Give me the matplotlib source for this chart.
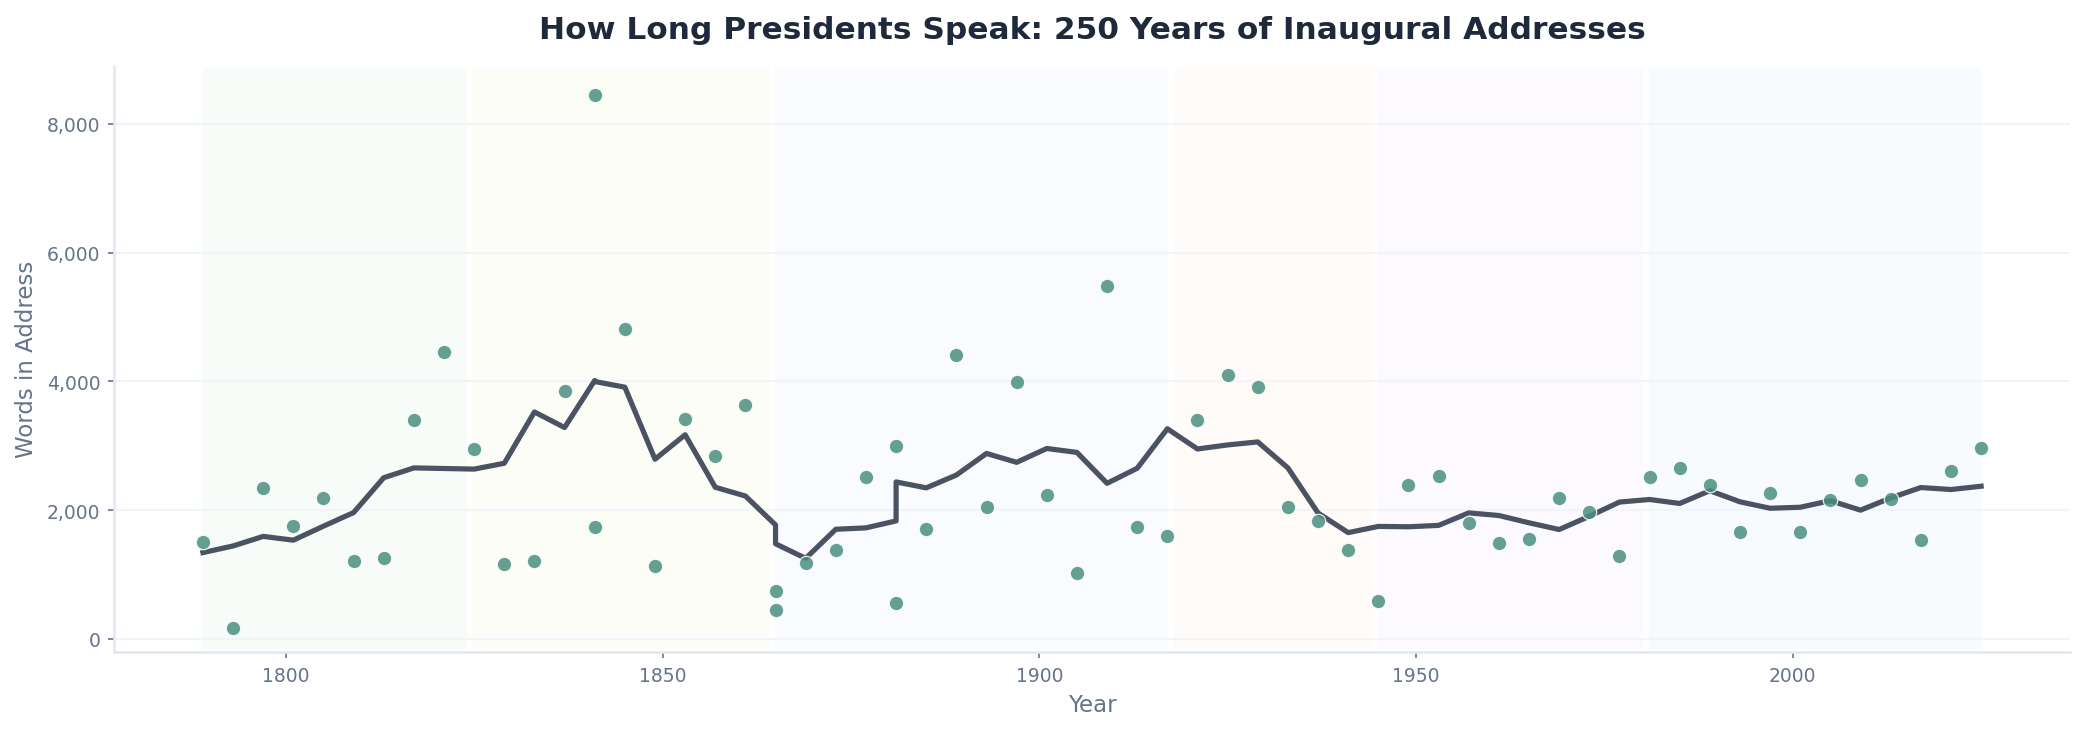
import matplotlib
matplotlib.use("Agg")
import matplotlib.pyplot as plt
from matplotlib.ticker import FuncFormatter
import pandas as pd

# inaugural addresses: year and word count
years = [1789, 1793, 1797, 1801, 1805, 1809, 1813, 1817, 1821, 1825, 1829, 1833,
         1837, 1841, 1841, 1845, 1849, 1853, 1857, 1861, 1865, 1865, 1869, 1873,
         1877, 1881, 1881, 1885, 1889, 1893, 1897, 1901, 1905, 1909, 1913, 1917,
         1921, 1925, 1929, 1933, 1937, 1941, 1945, 1949, 1953, 1957, 1961, 1965,
         1969, 1973, 1977, 1981, 1985, 1989, 1993, 1997, 2001, 2005, 2009, 2013,
         2017, 2021, 2025]
words = [1504, 167, 2346, 1751, 2185, 1210, 1256, 3402, 4458, 2947, 1163, 1210,
         3856, 8441, 1738, 4818, 1129, 3415, 2847, 3636, 742, 448, 1170, 1383,
         2506, 3001, 555, 1711, 4411, 2045, 3996, 2232, 1022, 5487, 1738, 1597,
         3402, 4090, 3916, 2052, 1831, 1383, 588, 2393, 2533, 1804, 1490, 1557,
         2192, 1965, 1283, 2519, 2660, 2393, 1657, 2272, 1657, 2159, 2473, 2165,
         1537, 2606, 2967]

# background eras
era_start = [1789, 1825, 1865, 1918, 1945, 1981]
era_end = [1824, 1864, 1917, 1944, 1980, 2025]
era_colors = ['#f7fcf9', '#fdfdf7', '#f9fbfe', '#fefbf8', '#fcfaff', '#f7fbfe']

df = pd.DataFrame({'year': years, 'words': words})
df['trend'] = df['words'].rolling(5, center=True, min_periods=1).mean()

fig = plt.figure(figsize=(13.9, 4.8933), dpi=150)
ax = fig.add_axes([114/2085, 1 - 653/734, (2070 - 114)/2085, (653 - 66.5)/734])

for s, e, c in zip(era_start, era_end, era_colors):
    ax.axvspan(s - 0.5, e + 0.5, facecolor=c, edgecolor='white', linewidth=2.7, zorder=0)

ax.plot(df['year'], df['trend'], color='#4b5363', linewidth=2.5, zorder=2)
ax.scatter(df['year'], df['words'], s=48, color='#4a8f80', alpha=0.85,
           edgecolors='white', linewidths=0.6, zorder=3)

pad_x = (max(years) - min(years)) * 0.05
ax.set_xlim(min(years) - pad_x, max(years) + pad_x)
ax.set_ylim(-205, 8905)

ax.set_axisbelow(True)
ax.yaxis.grid(True, color='#f1f5f9', linewidth=1.0, zorder=0.5)
ax.set_yticks([0, 2000, 4000, 6000, 8000])
ax.yaxis.set_major_formatter(FuncFormatter(lambda v, p: f'{int(v):,}'))

for side in ['top', 'right']:
    ax.spines[side].set_visible(False)
for side in ['left', 'bottom']:
    ax.spines[side].set_color('#e2e8f0')
    ax.spines[side].set_linewidth(1.2)

ax.tick_params(axis='both', colors='#64748b', labelsize=9, length=3, width=0.8)
ax.set_xlabel('Year', fontsize=11, color='#64748b')
ax.set_ylabel('Words in Address', fontsize=11, color='#64748b')
ax.set_title('How Long Presidents Speak: 250 Years of Inaugural Addresses',
             fontsize=15, fontweight='bold', color='#1e293b', pad=13)

fig.savefig('out.png', dpi=150, facecolor='white')
